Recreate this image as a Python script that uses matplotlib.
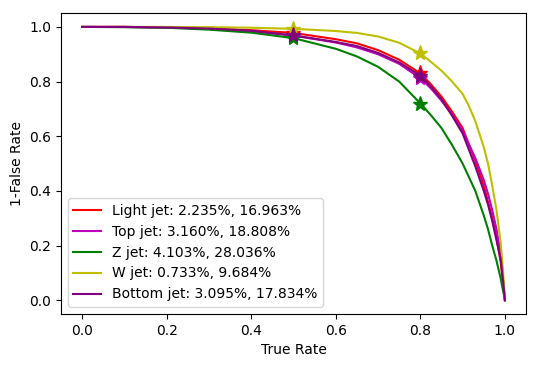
import matplotlib
matplotlib.use("Agg")
import matplotlib.pyplot as plt

# true rate grid shared by all curves
true_rate = [0.0, 0.1, 0.2, 0.3, 0.4, 0.5, 0.6, 0.65, 0.7, 0.75, 0.8, 0.825,
             0.85, 0.875, 0.9, 0.915, 0.93, 0.95, 0.96, 0.97, 0.98, 0.99, 0.995, 1.0]

# 1 - false rate
light_jet = [1.0, 1.0, 0.998, 0.994, 0.988, 0.978, 0.955, 0.94, 0.915, 0.88, 0.830, 0.79,
             0.745, 0.69, 0.63, 0.57, 0.51, 0.42, 0.36, 0.30, 0.23, 0.14, 0.07, 0.0]
top_jet = [1.0, 1.0, 0.998, 0.993, 0.984, 0.968, 0.943, 0.925, 0.90, 0.865, 0.812, 0.775,
           0.73, 0.68, 0.62, 0.57, 0.52, 0.44, 0.39, 0.33, 0.26, 0.17, 0.09, 0.0]
z_jet = [1.0, 0.999, 0.997, 0.99, 0.979, 0.959, 0.92, 0.892, 0.854, 0.80, 0.720, 0.677,
         0.63, 0.568, 0.50, 0.45, 0.40, 0.31, 0.26, 0.20, 0.145, 0.08, 0.04, 0.0]
w_jet = [1.0, 1.0, 1.0, 0.999, 0.997, 0.993, 0.985, 0.978, 0.965, 0.942, 0.903, 0.872,
         0.84, 0.80, 0.755, 0.71, 0.655, 0.56, 0.50, 0.42, 0.33, 0.21, 0.12, 0.0]
bottom_jet = [1.0, 1.0, 0.998, 0.994, 0.986, 0.969, 0.945, 0.93, 0.905, 0.87, 0.822, 0.782,
              0.735, 0.675, 0.61, 0.55, 0.49, 0.40, 0.35, 0.29, 0.22, 0.15, 0.08, 0.0]

names = ["Light jet", "Top jet", "Z jet", "W jet", "Bottom jet"]
colors = ["r", "m", "g", "y", "purple"]
curves = [light_jet, top_jet, z_jet, w_jet, bottom_jet]

# false rates (%) at the two working points
work_points = [0.5, 0.8]
fr_50 = [2.235, 3.160, 4.103, 0.733, 3.095]
fr_80 = [16.963, 18.808, 28.036, 9.684, 17.834]

fig = plt.figure(figsize=(5.39, 3.68), dpi=100)
ax = fig.add_axes([0.113, 0.147, 0.863, 0.817])

for name, c, y, f1, f2 in zip(names, colors, curves, fr_50, fr_80):
    ax.plot(true_rate, y, color=c, lw=1.5,
            label="%s: %.3f%%, %.3f%%" % (name, f1, f2))
    ax.plot(work_points, [1 - f1 / 100, 1 - f2 / 100], "*", color=c, ms=11)

ax.set_xlabel("True Rate")
ax.set_ylabel("1-False Rate")
ax.legend(loc="lower left")

fig.savefig("out.png", dpi=100)
